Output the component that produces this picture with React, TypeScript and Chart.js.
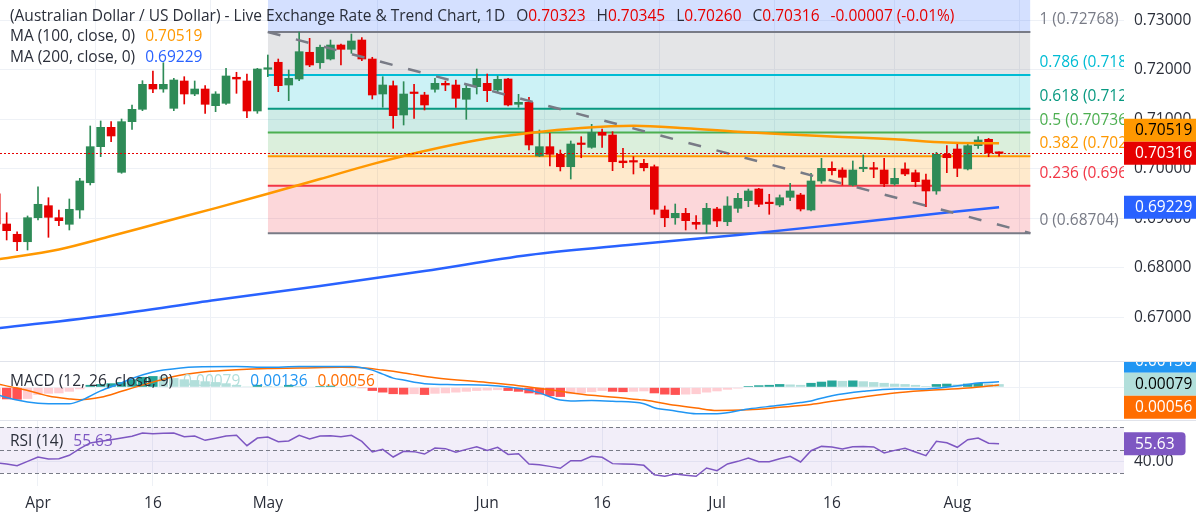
import React, { useEffect, useRef } from "react";
import { Chart, registerables } from "chart.js";
Chart.register(...registerables);

const FONT = "'Open Sans', Roboto, sans-serif";
const TEXT = "#2a2e39";
const GRID = "#eef1f6";
const UP = "#2e8b57";
const DOWN = "#e60000";
const AXIS_W = 72;
const FS = 15.5;

// ---------- data ----------
const TITLE = "(Australian Dollar / US Dollar) - Live Exchange Rate & Trend Chart, 1D";
const FIRST_INDEX = -1; // bar index of the first element (Mar 26)
const OPEN = [0.695, 0.68889, 0.68681, 0.68531, 0.69016, 0.69259, 0.69016, 0.68883, 0.69172, 0.69723, 0.70451, 0.70842, 0.69933, 0.70956, 0.71206, 0.71711, 0.71616, 0.71226, 0.71778, 0.71515, 0.71616, 0.71279, 0.71327, 0.71853, 0.71778, 0.71172, 0.72015, 0.72156, 0.71697, 0.71818, 0.72358, 0.72147, 0.72222, 0.72505, 0.72418, 0.72606, 0.72222, 0.71515, 0.71683, 0.71091, 0.71535, 0.71495, 0.7161, 0.71731, 0.71697, 0.71408, 0.71663, 0.71731, 0.71596, 0.71818, 0.71307, 0.71347, 0.70263, 0.70451, 0.70297, 0.70046, 0.70515, 0.70438, 0.70741, 0.70687, 0.70162, 0.70147, 0.70115, 0.70046, 0.69172, 0.69016, 0.69105, 0.68923, 0.68883, 0.69192, 0.68935, 0.69206, 0.6936, 0.69596, 0.69313, 0.69273, 0.69428, 0.69475, 0.69172, 0.69758, 0.70014, 0.6998, 0.69677, 0.70005, 0.70005, 0.6998, 0.69697, 0.7, 0.69925, 0.69778, 0.69556, 0.70297, 0.70404, 0.7, 0.70471, 0.706, 0.70323];
const HIGH = [0.6956, 0.69117, 0.68733, 0.69051, 0.69642, 0.6942, 0.69172, 0.69394, 0.69812, 0.70869, 0.7097, 0.70956, 0.7101, 0.71293, 0.71784, 0.7198, 0.72147, 0.71832, 0.71865, 0.71778, 0.71683, 0.71562, 0.72034, 0.71954, 0.71919, 0.72034, 0.72303, 0.72222, 0.72, 0.72768, 0.7264, 0.72505, 0.72606, 0.72525, 0.72727, 0.72653, 0.72257, 0.71865, 0.71778, 0.71764, 0.71711, 0.7155, 0.71832, 0.71778, 0.71798, 0.71711, 0.7202, 0.71919, 0.71879, 0.71832, 0.71509, 0.71448, 0.70788, 0.70721, 0.70384, 0.70566, 0.70653, 0.70903, 0.70808, 0.70754, 0.70418, 0.70249, 0.70196, 0.70081, 0.69253, 0.69293, 0.69206, 0.69057, 0.69307, 0.69226, 0.6944, 0.69509, 0.69596, 0.6961, 0.69489, 0.69475, 0.69711, 0.69509, 0.69913, 0.70216, 0.70147, 0.70026, 0.70162, 0.70283, 0.70135, 0.70216, 0.70014, 0.70127, 0.6998, 0.69899, 0.70337, 0.70471, 0.70519, 0.70505, 0.70653, 0.7062, 0.70345];
const LOW = [0.688, 0.68566, 0.68349, 0.68364, 0.6897, 0.6862, 0.68855, 0.68768, 0.69004, 0.69677, 0.70249, 0.70552, 0.69913, 0.70802, 0.71178, 0.71541, 0.7155, 0.71178, 0.71313, 0.71481, 0.71125, 0.71158, 0.71307, 0.71529, 0.71036, 0.71125, 0.71865, 0.71562, 0.7138, 0.71784, 0.72067, 0.72034, 0.72202, 0.72101, 0.72337, 0.72188, 0.71414, 0.71246, 0.70822, 0.70889, 0.71024, 0.71192, 0.7155, 0.71582, 0.71246, 0.71004, 0.71515, 0.7136, 0.71562, 0.71273, 0.71246, 0.70384, 0.70249, 0.70061, 0.6996, 0.69798, 0.70228, 0.70418, 0.70438, 0.69966, 0.70026, 0.69899, 0.6996, 0.69085, 0.68834, 0.68883, 0.68768, 0.68782, 0.68704, 0.68834, 0.68855, 0.69125, 0.69238, 0.69238, 0.69085, 0.69238, 0.6936, 0.69152, 0.69152, 0.69711, 0.69879, 0.69677, 0.69657, 0.69946, 0.69824, 0.69643, 0.69671, 0.69865, 0.69643, 0.69238, 0.69489, 0.69925, 0.69845, 0.6998, 0.70418, 0.70249, 0.7026];
const CLOSE = [0.6889, 0.68754, 0.68531, 0.69016, 0.69287, 0.69024, 0.68956, 0.69186, 0.69758, 0.70451, 0.70842, 0.70667, 0.70956, 0.71206, 0.71711, 0.71616, 0.71711, 0.71798, 0.71515, 0.71616, 0.71307, 0.71515, 0.71879, 0.71818, 0.71172, 0.7202, 0.72025, 0.71683, 0.71832, 0.7237, 0.72101, 0.72459, 0.72505, 0.72418, 0.72586, 0.72222, 0.71495, 0.71697, 0.71077, 0.71515, 0.71525, 0.71293, 0.71731, 0.71697, 0.71428, 0.7163, 0.71832, 0.71582, 0.71812, 0.71293, 0.71347, 0.70485, 0.70451, 0.70297, 0.70046, 0.70505, 0.70495, 0.70741, 0.70681, 0.70147, 0.70127, 0.7014, 0.70026, 0.69186, 0.69016, 0.69105, 0.68956, 0.68883, 0.69206, 0.6895, 0.69253, 0.69408, 0.69556, 0.69287, 0.693, 0.6942, 0.69556, 0.69192, 0.69758, 0.70014, 0.69966, 0.69832, 0.6998, 0.70015, 0.69995, 0.69697, 0.69812, 0.69899, 0.69744, 0.69556, 0.70297, 0.70228, 0.70014, 0.70471, 0.70586, 0.70323, 0.70316];

const MA100_IDX = [-1, 5, 10, 15, 20, 25, 30, 35, 40, 45, 50, 55, 60, 65, 70, 75, 80, 85, 90, 95];
const MA100_VAL = [0.6817, 0.68374, 0.68645, 0.6893, 0.6921, 0.695, 0.69798, 0.70099, 0.70364, 0.70582, 0.70725, 0.70826, 0.70873, 0.70824, 0.70752, 0.70697, 0.70647, 0.706, 0.70535, 0.70519];
const MA200_IDX = [-1, 10, 20, 30, 40, 50, 60, 70, 80, 90, 95];
const MA200_VAL = [0.66778, 0.67051, 0.67354, 0.67636, 0.67939, 0.68263, 0.68475, 0.68667, 0.68889, 0.69121, 0.69229];

const MACD_IDX = [-1, 1, 3, 4, 6, 7, 9, 11, 12, 14, 15, 18, 22, 25, 28, 32, 33, 35, 36, 37, 38, 40, 43, 46, 48, 50, 51, 53, 54, 56, 58, 61, 62, 64, 66, 68, 71, 74, 76, 77, 79, 82, 85, 88, 92, 93, 95];
const MACD_VAL = [-0.0018, -0.0032, -0.004, -0.0041, -0.0041, -0.0034, -0.0009, 0.0011, 0.0022, 0.0038, 0.0043, 0.0051, 0.0052, 0.005, 0.0052, 0.0052, 0.0052, 0.0043, 0.0033, 0.0023, 0.0018, 0.0009, 0.00065, 0.0005, 0.0001, -0.0007, -0.0014, -0.0032, -0.0034, -0.0033, -0.0035, -0.0041, -0.0051, -0.0059, -0.0066, -0.0066, -0.0054, -0.0045, -0.0038, -0.0034, -0.0021, -0.001, -0.0004, -0.0004, 0.0007, 0.0011, 0.00136];
const SIGNAL_IDX = [-1, 1, 3, 4, 6, 7, 9, 11, 12, 14, 16, 17, 19, 22, 25, 28, 32, 34, 36, 38, 41, 46, 49, 53, 56, 59, 61, 64, 66, 68, 71, 74, 77, 79, 82, 85, 88, 92, 95];
const SIGNAL_VAL = [0.0009, -0.0002, -0.0015, -0.0022, -0.0029, -0.0031, -0.0025, -0.001, -0.0002, 0.0013, 0.0027, 0.0032, 0.0039, 0.0044, 0.0047, 0.0048, 0.005, 0.0049, 0.0043, 0.0036, 0.0024, 0.0012, 0.0004, -0.001, -0.002, -0.0027, -0.0032, -0.0045, -0.0052, -0.0058, -0.0056, -0.005, -0.0043, -0.0035, -0.0024, -0.0014, -0.0008, -0.0002, 0.00056];
const HIST = [-0.0028, -0.003, -0.0031, -0.0029, -0.0019, -0.0016, -0.0015, -0.0011, -0.0005, 0.0006, 0.0008, 0.001, 0.0013, 0.002, 0.0026, 0.0028, 0.0027, 0.0023, 0.002, 0.0018, 0.0015, 0.0013, 0.001, 0.0006, 0.0002, 0.0006, 0.0003, 0.0002, 0.0006, 0.0003, 0.0001, 0.0003, 0.0004, 0.0001, 0.0002, -0.0002, -0.0009, -0.0013, -0.0017, -0.0018, -0.0017, -0.0019, -0.0016, -0.0015, -0.0013, -0.0011, -0.0009, -0.0008, -0.0007, -0.0009, -0.0011, -0.0015, -0.0018, -0.0022, -0.0024, -0.0017, -0.0015, -0.0012, -0.0009, -0.0011, -0.0012, -0.0011, -0.001, -0.0015, -0.0018, -0.0019, -0.0018, -0.0017, -0.0013, -0.001, -0.0006, -0.0003, 0.0003, 0.0005, 0.0006, 0.0008, 0.0007, 0.0006, 0.0011, 0.0014, 0.0017, 0.0016, 0.0017, 0.0015, 0.0013, 0.0011, 0.0009, 0.0008, 0.0006, 0.0003, 0.0008, 0.0009, 0.0007, 0.0009, 0.0011, 0.0009, 0.00079];
const RSI = [39.0, 37.9, 36.4, 40.2, 44.0, 42.3, 42.5, 45.5, 51.3, 56.3, 57.7, 59.2, 60.6, 62.1, 65.0, 64.4, 64.7, 65.0, 61.8, 62.4, 58.6, 60.4, 62.4, 63.0, 53.9, 60.6, 61.5, 57.4, 58.0, 63.0, 59.8, 62.4, 62.7, 61.8, 63.0, 57.7, 48.4, 50.7, 44.0, 49.0, 48.7, 46.6, 51.9, 51.3, 48.1, 50.7, 53.0, 49.8, 52.5, 46.3, 46.9, 37.9, 37.3, 35.8, 34.1, 40.8, 40.8, 44.6, 43.7, 38.2, 37.9, 37.6, 36.7, 28.5, 27.1, 29.1, 28.0, 27.1, 34.4, 32.0, 37.9, 40.2, 43.1, 39.9, 39.9, 42.5, 44.6, 39.6, 49.5, 53.3, 52.8, 51.0, 53.0, 53.3, 52.8, 47.5, 49.8, 51.6, 48.4, 45.2, 57.7, 56.5, 52.5, 59.2, 60.6, 56.0, 55.63];

const FIB_HIGH = 0.72768;
const FIB_LOW = 0.68704;
const FIB_START_IDX = 25;
const FIB_END_IDX = 98;
const FIB_LEVELS = [1.618, 1, 0.786, 0.618, 0.5, 0.382, 0.236, 0];
const FIB_COLORS = ["#2962ff", "#787b86", "#00bcd4", "#089981", "#4caf50", "#ff9800", "#f23645", "#787b86"];
const TREND_IDX = [25, 98];
const TREND_VAL = [0.72768, 0.68704];

const PRICE_TICKS = [0.67, 0.68, 0.69, 0.7, 0.71, 0.72, 0.73];
const RSI_TICKS = [40];
const RSI_LEVELS = [70, 50, 30];
const DATE_TICK_IDX = [3, 14, 25, 46, 57, 68, 79, 91];
const DATE_TICK_LABELS = ["Apr", "16", "May", "Jun", "16", "Jul", "16", "Aug"];

// ---------- view ranges ----------
const X_MIN = -0.6376;
const X_MAX = 106.96;
const PRICE_MIN = 0.661212;
const PRICE_MAX = 0.734141;
const MACD_MIN = -0.008175;
const MACD_MAX = 0.006575;
const RSI_MIN = 18.62;
const RSI_MAX = 76.39;

// ---------- helpers ----------
const N = OPEN.length;
const IDX = OPEN.map((_, k) => FIRST_INDEX + k);
const isUp = (k: number) => CLOSE[k] >= OPEN[k];
const fibPrice = (lvl: number) => FIB_LOW + lvl * (FIB_HIGH - FIB_LOW);
const pts = (xs: number[], ys: number[]) => xs.map((x, k) => ({ x, y: ys[k] }));
function hexA(hex: string, a: number) {
  const n = parseInt(hex.slice(1), 16);
  return `rgba(${(n >> 16) & 255},${(n >> 8) & 255},${n & 255},${a})`;
}
const histColor = (k: number) => {
  const h = HIST[k];
  const p = k > 0 ? HIST[k - 1] : h;
  if (h >= 0) return h > p ? "#26a69a" : "#b2dfdb";
  return h < p ? "#ff5252" : "#ffcdd2";
};
const f = (s: number) => `${s}px ${FONT}`;

function drawBox(ctx: any, x: number, yc: number, text: string, bg: string, fg: string) {
  ctx.font = f(FS);
  const w = ctx.measureText(text).width + 22;
  const h = 23;
  ctx.fillStyle = bg;
  ctx.beginPath();
  if (ctx.roundRect) ctx.roundRect(x, yc - h / 2, w, h, [0, 4, 4, 0]);
  else ctx.rect(x, yc - h / 2, w, h);
  ctx.fill();
  ctx.fillStyle = fg;
  ctx.textAlign = "left";
  ctx.textBaseline = "middle";
  ctx.fillText(text, x + 11, yc + 0.5);
}

function stackLabels(items: any[], anchor: number, h: number) {
  const s = items.map((it, i) => ({ ...it, i })).sort((a, b) => a.y - b.y);
  const a = s.findIndex((q) => q.i === anchor);
  for (let k = a - 1; k >= 0; k--) s[k].y = Math.min(s[k].y, s[k + 1].y - h);
  for (let k = a + 1; k < s.length; k++) s[k].y = Math.max(s[k].y, s[k - 1].y + h);
  return s;
}

function drawParts(ctx: any, x: number, y: number, parts: any[]) {
  ctx.font = f(FS);
  ctx.textAlign = "left";
  ctx.textBaseline = "alphabetic";
  for (const [t, color, gap] of parts) {
    ctx.fillStyle = color;
    ctx.fillText(t, x, y);
    x += ctx.measureText(t).width + (gap || 0);
  }
}

function xAxis(showLabels: boolean, height: number) {
  return {
    type: "linear",
    min: X_MIN,
    max: X_MAX,
    offset: false,
    afterBuildTicks: (s: any) => {
      s.ticks = DATE_TICK_IDX.map((v) => ({ value: v }));
    },
    ticks: {
      display: showLabels,
      autoSkip: false,
      maxRotation: 0,
      padding: 8,
      color: TEXT,
      font: { size: FS, family: FONT },
      callback: (_v: any, i: number) => DATE_TICK_LABELS[i],
    },
    grid: { color: GRID, drawTicks: false },
    border: { display: false },
    afterFit: (s: any) => {
      s.height = height;
      s.paddingLeft = 0;
      s.paddingRight = 0;
      s.paddingTop = 0;
      s.paddingBottom = 0;
    },
  };
}

function yAxis(min: number, max: number, ticks: number[], show: boolean, digits: number) {
  return {
    type: "linear",
    position: "right",
    min,
    max,
    afterBuildTicks: (s: any) => {
      s.ticks = ticks.map((v) => ({ value: v }));
    },
    ticks: {
      display: show,
      padding: 10,
      color: TEXT,
      font: { size: FS, family: FONT },
      callback: (v: any) => Number(v).toFixed(digits),
    },
    grid: { color: GRID, drawTicks: false },
    border: { display: false },
    afterFit: (s: any) => {
      s.width = AXIS_W;
      s.paddingTop = 0;
      s.paddingBottom = 0;
      s.paddingLeft = 0;
      s.paddingRight = 0;
    },
  };
}

const baseOptions = {
  responsive: false,
  animation: false,
  events: [],
  layout: { padding: 0 },
};

function priceConfig(): any {
  const fibSets = FIB_LEVELS.map((lvl, k) => ({
    type: "line",
    data: [
      { x: FIB_START_IDX, y: fibPrice(lvl) },
      { x: FIB_END_IDX, y: fibPrice(lvl) },
    ],
    borderColor: FIB_COLORS[k],
    borderWidth: 2,
    pointRadius: 0,
    fill: k < FIB_LEVELS.length - 1 ? "+1" : false,
    backgroundColor: hexA(FIB_COLORS[k], 0.2),
    order: 10,
  }));
  const candleColor = (c: any) => (isUp(c.dataIndex) ? UP : DOWN);
  const datasets: any[] = [
    {
      type: "line",
      data: pts(TREND_IDX, TREND_VAL),
      borderColor: "#787b86",
      borderWidth: 2.5,
      borderDash: [13, 16],
      pointRadius: 0,
      fill: false,
      order: 1,
    },
    {
      type: "line",
      data: pts(MA100_IDX, MA100_VAL),
      borderColor: "#ff9800",
      borderWidth: 2.5,
      pointRadius: 0,
      tension: 0.4,
      cubicInterpolationMode: "monotone",
      fill: false,
      order: 2,
    },
    {
      type: "line",
      data: pts(MA200_IDX, MA200_VAL),
      borderColor: "#2962ff",
      borderWidth: 2.5,
      pointRadius: 0,
      tension: 0.4,
      cubicInterpolationMode: "monotone",
      fill: false,
      order: 2,
    },
    {
      type: "bar",
      data: IDX.map((x, k) => ({ x, y: [OPEN[k], CLOSE[k]] })),
      backgroundColor: candleColor,
      barThickness: 8,
      minBarLength: 1.5,
      grouped: false,
      borderWidth: 0,
      order: 3,
    },
    {
      type: "bar",
      data: IDX.map((x, k) => ({ x, y: [LOW[k], HIGH[k]] })),
      backgroundColor: candleColor,
      barThickness: 1,
      grouped: false,
      borderWidth: 0,
      order: 4,
    },
    ...fibSets,
  ];

  const overlay = {
    id: "priceOverlay",
    afterDraw(chart: any) {
      const { ctx, chartArea, scales } = chart;
      const x = scales.x;
      const y = scales.y;
      ctx.save();
      const last = N - 1;
      const cy = y.getPixelForValue(CLOSE[last]);
      ctx.strokeStyle = isUp(last) ? UP : DOWN;
      ctx.lineWidth = 1;
      ctx.setLineDash([2, 2]);
      ctx.beginPath();
      ctx.moveTo(chartArea.left, Math.round(cy) + 0.5);
      ctx.lineTo(chartArea.right, Math.round(cy) + 0.5);
      ctx.stroke();
      ctx.setLineDash([]);

      ctx.save();
      ctx.beginPath();
      ctx.rect(chartArea.left, chartArea.top, chartArea.right - chartArea.left, chartArea.bottom - chartArea.top);
      ctx.clip();
      ctx.font = f(FS);
      ctx.textAlign = "left";
      ctx.textBaseline = "alphabetic";
      const lx = x.getPixelForValue(FIB_END_IDX) + 9;
      FIB_LEVELS.forEach((lvl, k) => {
        if (lvl > 1) return;
        const p = fibPrice(lvl);
        ctx.fillStyle = FIB_COLORS[k];
        ctx.fillText(`${lvl} (${p.toFixed(5)})`, lx, y.getPixelForValue(p) - 8);
      });
      ctx.restore();

      const items = [
        { y: y.getPixelForValue(MA100_VAL[MA100_VAL.length - 1]), t: MA100_VAL[MA100_VAL.length - 1].toFixed(5), bg: "#ff9800", fg: "#000000" },
        { y: cy, t: CLOSE[last].toFixed(5), bg: isUp(last) ? UP : DOWN, fg: "#ffffff" },
        { y: y.getPixelForValue(MA200_VAL[MA200_VAL.length - 1]), t: MA200_VAL[MA200_VAL.length - 1].toFixed(5), bg: "#2962ff", fg: "#ffffff" },
      ];
      stackLabels(items, 1, 23).forEach((it) => drawBox(ctx, chartArea.right, it.y, it.t, it.bg, it.fg));

      const chg = CLOSE[last] - CLOSE[last - 1];
      const pct = (chg / CLOSE[last - 1]) * 100;
      const vc = chg < 0 ? DOWN : UP;
      const sign = chg < 0 ? "-" : "+";
      drawParts(ctx, 10, 20.5, [
        [TITLE, TEXT, 11],
        ["O", TEXT, 0],
        [OPEN[last].toFixed(5), vc, 11],
        ["H", TEXT, 0],
        [HIGH[last].toFixed(5), vc, 11],
        ["L", TEXT, 0],
        [LOW[last].toFixed(5), vc, 11],
        ["C", TEXT, 0],
        [CLOSE[last].toFixed(5), vc, 11],
        [`${sign}${Math.abs(chg).toFixed(5)} (${sign}${Math.abs(pct).toFixed(2)}%)`, vc, 0],
      ]);
      drawParts(ctx, 10, 41, [
        ["MA (100, close, 0)", TEXT, 10],
        [MA100_VAL[MA100_VAL.length - 1].toFixed(5), "#ff9800", 0],
      ]);
      drawParts(ctx, 10, 61.5, [
        ["MA (200, close, 0)", TEXT, 10],
        [MA200_VAL[MA200_VAL.length - 1].toFixed(5), "#2962ff", 0],
      ]);
      ctx.restore();
    },
  };

  return {
    type: "bar",
    data: { datasets },
    options: {
      ...baseOptions,
      plugins: { legend: { display: false }, tooltip: { enabled: false }, filler: { drawTime: "beforeDatasetsDraw" } },
      scales: {
        x: xAxis(false, 0),
        y: yAxis(PRICE_MIN, PRICE_MAX, PRICE_TICKS, true, 5),
      },
    },
    plugins: [overlay],
  };
}

function macdConfig(): any {
  const datasets: any[] = [
    {
      type: "line",
      data: pts(MACD_IDX, MACD_VAL),
      borderColor: "#2196f3",
      borderWidth: 1.5,
      pointRadius: 0,
      tension: 0.4,
      cubicInterpolationMode: "monotone",
      order: 1,
    },
    {
      type: "line",
      data: pts(SIGNAL_IDX, SIGNAL_VAL),
      borderColor: "#ff6d00",
      borderWidth: 1.5,
      pointRadius: 0,
      tension: 0.4,
      cubicInterpolationMode: "monotone",
      order: 1,
    },
    {
      type: "bar",
      data: IDX.map((x, k) => ({ x, y: HIST[k] })),
      backgroundColor: (c: any) => histColor(c.dataIndex),
      barPercentage: 0.9,
      categoryPercentage: 1,
      grouped: false,
      borderWidth: 0,
      order: 3,
    },
  ];
  const overlay = {
    id: "macdOverlay",
    afterDraw(chart: any) {
      const { ctx, chartArea, scales } = chart;
      const y = scales.y;
      ctx.save();
      const last = N - 1;
      const mv = MACD_VAL[MACD_VAL.length - 1];
      const sv = SIGNAL_VAL[SIGNAL_VAL.length - 1];
      const hv = HIST[last];
      const items = [
        { y: y.getPixelForValue(mv), t: mv.toFixed(5), bg: "#2196f3", fg: "#ffffff" },
        { y: y.getPixelForValue(hv), t: hv.toFixed(5), bg: histColor(last), fg: "#000000" },
        { y: y.getPixelForValue(sv), t: sv.toFixed(5), bg: "#ff6d00", fg: "#ffffff" },
      ];
      stackLabels(items, 1, 23).forEach((it) => drawBox(ctx, chartArea.right, it.y, it.t, it.bg, it.fg));
      drawParts(ctx, 10, 25, [
        ["MACD (12, 26, close, 9)", TEXT, 10],
        [hv.toFixed(5), histColor(last), 10],
        [mv.toFixed(5), "#2196f3", 10],
        [sv.toFixed(5), "#ff6d00", 0],
      ]);
      ctx.strokeStyle = "#e0e3eb";
      ctx.lineWidth = 1;
      ctx.beginPath();
      ctx.moveTo(0, 0.5);
      ctx.lineTo(chart.width, 0.5);
      ctx.stroke();
      ctx.restore();
    },
  };
  return {
    type: "bar",
    data: { datasets },
    options: {
      ...baseOptions,
      plugins: { legend: { display: false }, tooltip: { enabled: false } },
      scales: {
        x: xAxis(false, 0),
        y: yAxis(MACD_MIN, MACD_MAX, [0], false, 5),
      },
    },
    plugins: [overlay],
  };
}

function rsiConfig(): any {
  const datasets: any[] = [
    {
      type: "line",
      data: IDX.map((x, k) => ({ x, y: RSI[k] })),
      borderColor: "#7e57c2",
      borderWidth: 1.5,
      pointRadius: 0,
      fill: false,
    },
  ];
  const overlay = {
    id: "rsiOverlay",
    beforeDatasetsDraw(chart: any) {
      const { ctx, chartArea, scales } = chart;
      const y = scales.y;
      ctx.save();
      const top = y.getPixelForValue(RSI_LEVELS[0]);
      const bot = y.getPixelForValue(RSI_LEVELS[RSI_LEVELS.length - 1]);
      ctx.fillStyle = "rgba(126,87,194,0.1)";
      ctx.fillRect(chartArea.left, top, chartArea.right - chartArea.left, bot - top);
      ctx.strokeStyle = "#787b86";
      ctx.lineWidth = 1;
      ctx.setLineDash([4, 3]);
      RSI_LEVELS.forEach((lv) => {
        const py = Math.round(y.getPixelForValue(lv)) + 0.5;
        ctx.beginPath();
        ctx.moveTo(chartArea.left, py);
        ctx.lineTo(chartArea.right, py);
        ctx.stroke();
      });
      ctx.restore();
    },
    afterDraw(chart: any) {
      const { ctx, chartArea, scales } = chart;
      const y = scales.y;
      ctx.save();
      const rv = RSI[N - 1];
      drawBox(ctx, chartArea.right, y.getPixelForValue(rv), rv.toFixed(2), "#7e57c2", "#ffffff");
      drawParts(ctx, 10, 26.3, [
        ["RSI (14)", TEXT, 10],
        [rv.toFixed(2), "#7e57c2", 0],
      ]);
      ctx.strokeStyle = "#e0e3eb";
      ctx.lineWidth = 1;
      ctx.beginPath();
      ctx.moveTo(0, 0.5);
      ctx.lineTo(chart.width, 0.5);
      ctx.stroke();
      ctx.restore();
    },
  };
  return {
    type: "line",
    data: { datasets },
    options: {
      ...baseOptions,
      plugins: { legend: { display: false }, tooltip: { enabled: false } },
      scales: {
        x: xAxis(true, 39),
        y: yAxis(RSI_MIN, RSI_MAX, RSI_TICKS, true, 2),
      },
    },
    plugins: [overlay],
  };
}

export default function App() {
  const r1 = useRef<HTMLCanvasElement>(null);
  const r2 = useRef<HTMLCanvasElement>(null);
  const r3 = useRef<HTMLCanvasElement>(null);
  useEffect(() => {
    document.body.style.margin = "0";
    document.body.style.background = "#ffffff";
    Chart.defaults.font.family = FONT;
    const c1 = new Chart(r1.current as any, priceConfig());
    const c2 = new Chart(r2.current as any, macdConfig());
    const c3 = new Chart(r3.current as any, rsiConfig());
    return () => {
      c1.destroy();
      c2.destroy();
      c3.destroy();
    };
  }, []);
  const cs = (top: number, h: number): any => ({ position: "absolute", left: 0, top, width: 1196, height: h });
  return (
    <div style={{ position: "relative", width: 1196, height: 525, background: "#ffffff", overflow: "hidden" }}>
      <canvas ref={r1} width={1196} height={361} style={cs(0, 361)} />
      <canvas ref={r2} width={1196} height={59} style={cs(361, 59)} />
      <canvas ref={r3} width={1196} height={105} style={cs(420, 105)} />
    </div>
  );
}
